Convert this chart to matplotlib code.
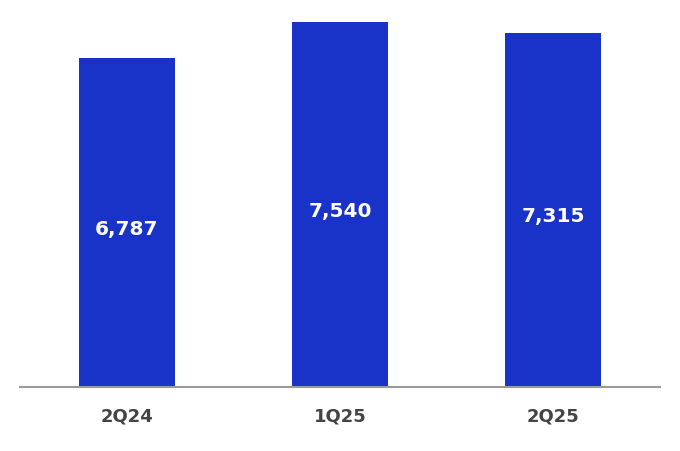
import matplotlib.pyplot as plt

quarters = ['2Q24', '1Q25', '2Q25']
values = [6787, 7540, 7315]
labels = ['6,787', '7,540', '7,315']

fig = plt.figure(figsize=(6.8, 4.52), dpi=100)
ax = fig.add_axes([20/680, 1 - 388/452, 640/680, 388/452])
x = range(len(quarters))
ax.bar(x, values, width=0.45, color='#1932C8')
for i, v in enumerate(values):
    ax.text(i, v/2 - 120, labels[i], ha='center', va='center', color='white',
            fontsize=14.5, fontweight='bold')
ax.set_xlim(-0.502, 2.502)
ax.set_ylim(0, 8015)
ax.set_xticks(list(x))
ax.set_xticklabels(quarters, fontsize=13, fontweight='bold', color='#444444')
ax.tick_params(axis='x', length=0, pad=14)
ax.set_yticks([])
for s in ['top', 'right', 'left']:
    ax.spines[s].set_visible(False)
ax.spines['bottom'].set_color('#999999')
ax.spines['bottom'].set_linewidth(1.5)
fig.savefig('out.png', dpi=100)
